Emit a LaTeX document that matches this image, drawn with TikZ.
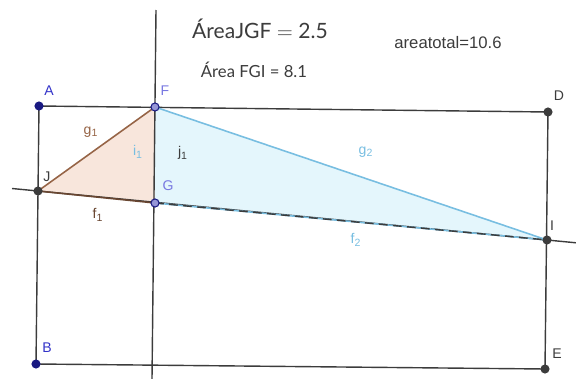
\documentclass[tikz,border=0pt]{standalone}
\usepackage{fontspec}
\setmainfont{Liberation Sans}
\newfontfamily\areafont{Lato}
\definecolor{lineblack}{RGB}{60,60,60}
\definecolor{peach}{RGB}{248,230,220}
\definecolor{skyfill}{RGB}{228,246,252}
\definecolor{brownedge}{RGB}{150,100,70}
\definecolor{blueedge}{RGB}{120,190,225}
\definecolor{navy}{RGB}{25,25,130}
\definecolor{lavender}{RGB}{150,150,215}
\definecolor{labelblue}{RGB}{50,50,200}
\definecolor{labellav}{RGB}{120,120,225}
\begin{document}
\begin{tikzpicture}[x=0.02cm, y=-0.02cm,
    axisline/.style={lineblack, line width=0.8pt},
    ptnavy/.style={circle, fill=navy, inner sep=0pt, minimum size=5.2pt},
    ptopen/.style={circle, draw=navy, fill=lavender, line width=0.6pt, inner sep=0pt, minimum size=4.6pt},
    ptdark/.style={circle, fill=lineblack, inner sep=0pt, minimum size=5.2pt},
    ptlabel/.style={font=\fontsize{8}{9}\selectfont, inner sep=0pt}]
    \useasboundingbox (0,0) rectangle (576,379);
    \coordinate (A) at (39,106);
    \coordinate (F) at (155,107);
    \coordinate (D) at (548,112);
    \coordinate (J) at (38,191);
    \coordinate (G) at (155,203);
    \coordinate (I) at (547,240);
    \coordinate (B) at (36,364);
    \coordinate (E) at (545,369);
    \coordinate (vtop) at (156,10);
    \coordinate (vbot) at (152,379);
    \coordinate (hleft) at (12,188.5);
    \coordinate (hright) at (576,242.8);
    \fill[peach] (J) -- (G) -- (F) -- cycle;
    \fill[skyfill] (F) -- (G) -- (I) -- cycle;
    \draw[axisline] (A) -- (D) -- (E) -- (B) -- cycle;
    \draw[axisline] (vtop) -- (vbot);
    \draw[axisline] (hleft) -- (hright);
    \draw[brownedge, line width=0.9pt] (J) -- (F);
    \draw[brownedge!70!black, line width=0.9pt] (J) -- (G);
    \draw[blueedge, line width=0.9pt] (F) -- (I);
    \draw[blueedge, line width=0.9pt] (G) -- (I);
    \draw[lineblack, line width=0.8pt, dash pattern=on 5pt off 3pt] (G) -- (I);
    \foreach \p in {A,B} \node[ptnavy] (p\p) at (\p) {};
    \foreach \p in {F,G} \node[ptopen] (p\p) at (\p) {};
    \foreach \p in {J,D,I,E} \node[ptdark] (p\p) at (\p) {};
    \node[ptlabel, labelblue] (lA) at (49,91) {A};
    \node[ptlabel, labelblue] (lB) at (47,348) {B};
    \node[ptlabel, labellav] (lF) at (165,91) {F};
    \node[ptlabel, labellav] (lG) at (168,186) {G};
    \node[ptlabel, lineblack] (lJ) at (47,177) {J};
    \node[ptlabel, lineblack] (lD) at (559,96) {D};
    \node[ptlabel, lineblack] (lI) at (552,226) {I};
    \node[ptlabel, lineblack] (lE) at (557,354) {E};
    \node[ptlabel, brownedge] (lg1) at (91,132) {g\textsubscript{1}};
    \node[ptlabel, blueedge] (li1) at (138,152) {i\textsubscript{1}};
    \node[ptlabel, lineblack] (lj1) at (183,153) {j\textsubscript{1}};
    \node[ptlabel, brownedge!70!black] (lf1) at (98,215) {f\textsubscript{1}};
    \node[ptlabel, blueedge] (lg2) at (366,152) {g\textsubscript{2}};
    \node[ptlabel, blueedge] (lf2) at (356,240) {f\textsubscript{2}};
    \node[lineblack, inner sep=0pt, font=\areafont\fontsize{12}{14}\selectfont] (areaJGF) at (260,29) {ÁreaJGF $=$ 2.5};
    \node[lineblack, inner sep=0pt, font=\areafont\fontsize{9.5}{11}\selectfont] (areaFGI) at (254,70) {Área FGI = 8.1};
    \node[lineblack, inner sep=0pt, font=\fontsize{9.5}{11}\selectfont] (areatotal) at (448,43) {areatotal=10.6};
\end{tikzpicture}
\end{document}
